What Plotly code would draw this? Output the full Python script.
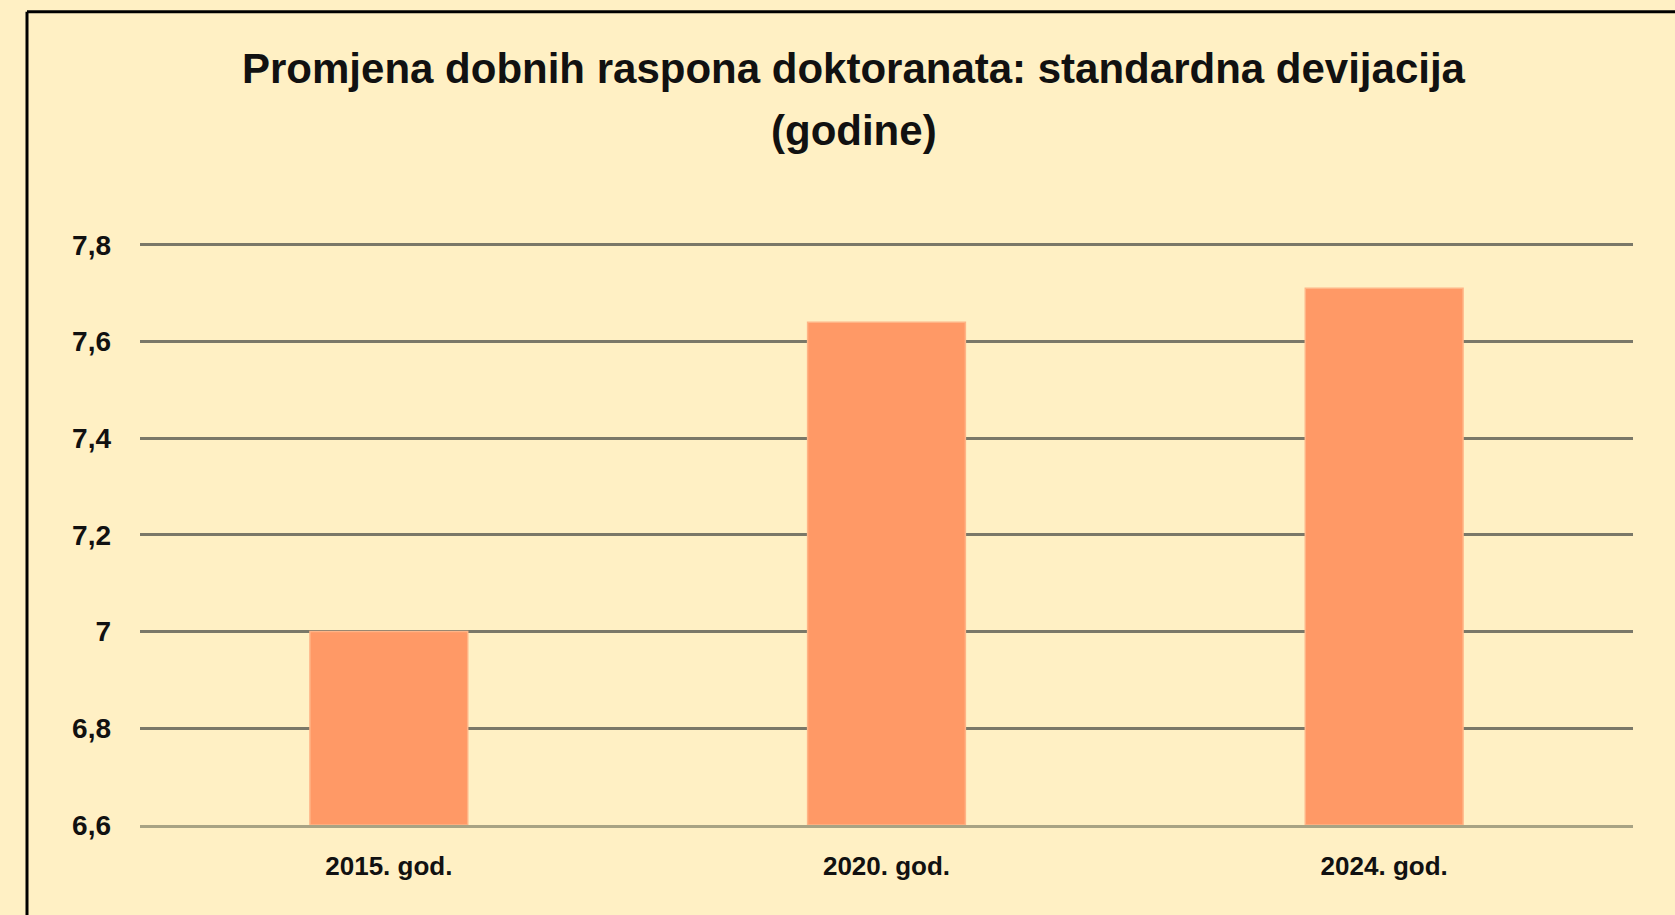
import plotly.graph_objects as go

categories = ["2015. god.", "2020. god.", "2024. god."]
values = [7.00, 7.64, 7.71]
tick_vals = [6.6, 6.8, 7.0, 7.2, 7.4, 7.6, 7.8]
tick_text = ["6,6", "6,8", "7", "7,2", "7,4", "7,6", "7,8"]
title_line1 = "Promjena dobnih raspona doktoranata: standardna devijacija"
title_line2 = "(godine)"

W, H = 1675, 915
y_min, y_max = 6.6, 7.81
axis_px, top_px = 824.7, 244.5  # pixel rows of 6.6 and 7.8
span = (axis_px - top_px) / (7.8 - y_min)
L, R = 140, 42
B = H - axis_px
T = axis_px - span * (y_max - y_min)
pw = W - L - R
ph = H - T - B

def px_x(p):
    return (p - L) / pw

def px_y(p):
    return (H - B - p) / ph

fig = go.Figure()
fig.add_trace(go.Bar(
    x=categories,
    y=[v - y_min for v in values],
    base=[y_min] * len(values),
    marker=dict(color="#FF9966", line=dict(color="#FFB486", width=1.5)),
    width=0.317,
    hovertext=[str(v) for v in values],
))

title_font = dict(family="Liberation Sans, Arial", size=42, color="#111111", weight="bold")
fig.update_layout(
    width=W, height=H,
    margin=dict(l=L, r=R, t=T, b=B),
    paper_bgcolor="#FFF0C4",
    plot_bgcolor="#FFF0C4",
    showlegend=False,
    font=dict(family="Liberation Sans, Arial", color="#111111"),
)
fig.add_annotation(text=title_line1, xref="paper", yref="paper",
                   x=px_x(853.5), y=px_y(68), xanchor="center", yanchor="middle",
                   showarrow=False, font=title_font)
fig.add_annotation(text=title_line2, xref="paper", yref="paper",
                   x=px_x(853.5), y=px_y(130), xanchor="center", yanchor="middle",
                   showarrow=False, font=title_font)

fig.update_xaxes(
    showgrid=False,
    showline=True, linecolor="#A8A384", linewidth=3,
    tickfont=dict(size=26, weight="bold", family="Liberation Sans, Arial", color="#111111"),
    ticks="", ticklabelstandoff=16,
)
fig.update_yaxes(
    range=[y_min, y_max],
    tickvals=tick_vals, ticktext=tick_text,
    showgrid=True, gridcolor="#7A7868", gridwidth=3,
    zeroline=False, showline=False,
    tickfont=dict(size=28, weight="bold", family="Liberation Sans, Arial", color="#111111"),
    ticks="", ticklabelstandoff=28,
)
# outer frame (top and left edges visible)
fig.add_shape(type="line", xref="paper", yref="paper",
              x0=px_x(27), x1=px_x(W + 10), y0=px_y(11.5), y1=px_y(11.5),
              line=dict(color="black", width=3))
fig.add_shape(type="line", xref="paper", yref="paper",
              x0=px_x(27), x1=px_x(27), y0=px_y(11.5), y1=px_y(H + 10),
              line=dict(color="black", width=3))

fig.write_html("out.html", config={"displayModeBar": False},
               post_script="document.body.style.margin='0';document.body.style.overflow='hidden';")
